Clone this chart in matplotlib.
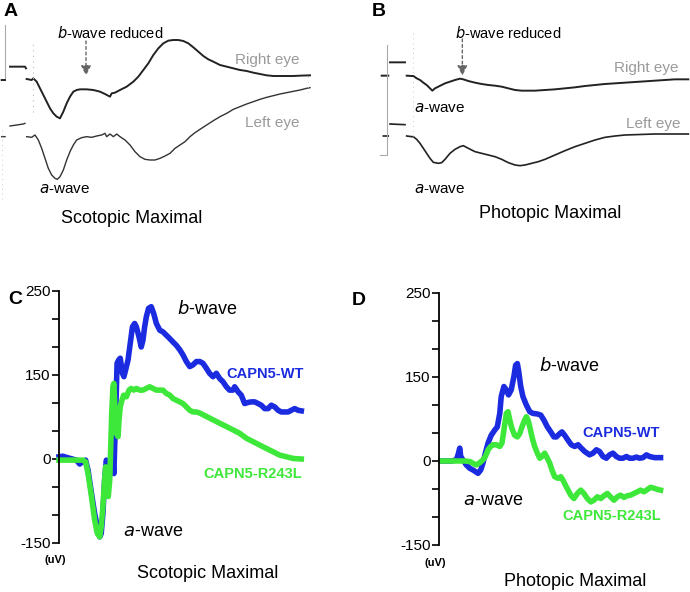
import numpy as np
import matplotlib
matplotlib.use("Agg")
import matplotlib.pyplot as plt

plt.rcParams['font.family'] = ['Liberation Sans', 'DejaVu Sans']

# ---------------- Panel A (scotopic, patient ERG traces) ----------------
# time (ms) and amplitude (uV, relative to each trace's baseline)
a_right_t = [-19, -17, np.nan, -14, -5, -4.4, np.nan, -4, -1, 0, 2, 4, 6, 8, 10, 12, 14, 16, 17, 18, 20, 22, 24, 26, 28, 32, 36, 40,
             43, 46, 47, 49, 52, 56, 60, 63, 66, 69, 72, 75, 78, 81, 84, 87, 90, 93, 96, 99, 102, 105, 108, 112, 116,
             120, 124, 128, 132, 136, 140, 144, 148, 152, 156, 160, 166]
a_right_v = [-3, -3, np.nan, 37, 37, 32, np.nan, 0, -3, 2, -8, -28, -48, -68, -88, -103, -113, -118, -108, -98, -73, -53, -38, -33, -31, -31, -33, -38,
             -45, -53, -43, -41, -33, -23, -8, 7, 27, 47, 72, 92, 107, 115, 117, 117, 114, 107, 95, 82, 69, 59, 52, 42, 37,
             32, 27, 24, 19, 15, 11, 9, 9, 9, 9, 10, 11]
a_left_t = [-19, -17, np.nan, -14, -6, -5, np.nan, -4, -1, 1, 3, 5, 7, 9, 11, 13, 14.4, 16, 18, 20, 22, 24, 26, 29, 32, 35, 38, 41,
            43, 44, 46, 48, 50, 52, 55, 58, 61, 64, 67, 70, 73, 76, 79, 82, 85, 88, 91, 94, 97, 100, 104, 108, 112, 116,
            120, 124, 128, 132, 136, 140, 144, 148, 152, 156, 160, 164, 166]
a_left_v = [0, 0, np.nan, 32, 38, 40, np.nan, 0, -2, 5, -10, -35, -65, -95, -115, -125, -128, -120, -100, -70, -45, -25, -10, -3, 0, -2, 2, 5,
            10, 0, 8, 0, 8, 0, -10, -25, -45, -60, -68, -70, -70, -65, -58, -50, -35, -25, -15, 0, 12, 22, 35, 48, 60, 70,
            82, 90, 98, 105, 112, 118, 123, 128, 132, 136, 140, 145, 147]

# ---------------- Panel B (photopic, patient ERG traces) ----------------
b_right_t = [-19, -15, np.nan, -14, -5, np.nan, -4, -1, 0, 2, 4, 6, 8, 10, 11.4, 13, 15, 17, 19, 22, 25, 28, 30, 33, 37, 41, 45, 49,
             53, 57, 61, 65, 69, 73, 79, 85, 91, 97, 103, 109, 115, 121, 127, 133, 139, 145, 151, 157, 165]
b_right_v = [0, 0, np.nan, 40, 40, np.nan, 0, -1, -1, -8, -13, -21, -28, -38, -45, -38, -33, -28, -23, -18, -13, -9, -11, -16, -21, -25, -28, -30,
             -33, -38, -43, -45, -45, -45, -43, -41, -38, -35, -31, -28, -25, -23, -21, -19, -17, -15, -13, -11, -11]
b_left_t = [-18, -15, np.nan, -14, -5, np.nan, -4, -1, 0, 2, 4, 6, 8, 10, 12, 15, 17, 19, 22, 25, 28, 30, 33, 37, 41, 45, 49, 53,
            57, 61, 64, 67, 71, 75, 79, 85, 91, 97, 103, 109, 115, 121, 127, 133, 139, 145, 151, 157, 165]
b_left_v = [0, 0, np.nan, 36, 34, np.nan, 0, -2, -2, -10, -22, -37, -52, -67, -79, -82, -80, -70, -52, -40, -32, -29, -37, -47, -52, -57, -62, -70,
            -80, -87, -89, -87, -82, -77, -70, -57, -44, -32, -22, -12, -4, 0, 3, 4, 5, 6, 6, 6, 6]

# ---------------- Panel C (mouse scotopic maximal) ----------------
c_wt_t = [0, 1.6, 3.0, 7.1, 8.5, 9.6, 10.9, 11.9, 13.3, 14.6, 15.7, 16.7, 17.3, 18.0, 18.7, 19.4, 20.1, 21.0, 21.9, 22.5, 22.8, 23.2,
          23.5, 23.8, 24.5, 25.1, 26.0, 26.6, 27.3, 28.3, 29.0, 30.1, 31.0, 31.7, 32.8, 33.7, 34.4, 35.1, 35.8, 36.7, 37.8, 38.8,
          39.9, 41.3, 42.6, 44.0, 45.4, 46.7, 48.1, 49.5, 50.8, 52.2, 53.6, 54.9, 56.3, 57.7, 59.0, 60.4, 61.7, 63.1, 64.5, 65.8,
          67.2, 68.6, 69.9, 71.3, 72.0, 73.4, 74.7, 76.1, 77.5, 78.8, 80.2, 81.6, 82.9, 84.3, 85.7, 87.0, 88.4, 89.8, 91.1, 92.5,
          93.9, 95.2, 96.6, 98.0, 99.3]
c_wt_v = [4, 5, 3, -2, -9, -5, -2, -20, -61, -97, -121, -139, -133, -97, -37, -2, -14, -8, 4, -26, 22, 70,
          123, 171, 177, 180, 153, 147, 159, 177, 200, 236, 242, 236, 218, 200, 212, 236, 254, 269, 272, 260,
          242, 230, 227, 221, 215, 209, 203, 195, 186, 174, 165, 168, 174, 174, 171, 162, 153, 147, 153, 144,
          138, 129, 123, 123, 129, 120, 114, 99, 101, 102, 102, 99, 96, 90, 90, 96, 93, 87, 84, 84,
          84, 87, 90, 87, 86]
c_mut_t = [0, 3.0, 5.7, 8.5, 9.8, 10.9, 11.9, 13.3, 14.6, 15.7, 16.7, 17.3, 18.0, 18.7, 19.1, 19.7, 20.2, 20.8, 21.2, 21.6, 22.1,
           22.5, 23.0, 23.5, 24.2, 24.6, 25.1, 25.8, 26.5, 27.6, 28.7, 29.6, 30.6, 31.7, 33.1, 34.4, 35.8, 37.2, 38.5, 39.9,
           41.3, 42.6, 44.0, 45.4, 46.7, 48.1, 49.5, 50.8, 52.2, 53.6, 54.9, 56.3, 57.7, 60.4, 63.1, 65.8, 68.6, 71.3, 74.0,
           76.8, 79.5, 82.2, 84.9, 87.7, 90.4, 93.2, 95.9, 99.3]
c_mut_v = [-2, -2, -2, -2, -2, -5, -26, -67, -109, -133, -139, -121, -85, -37, -14, -26, -67, -37, 22, 82, 129,
           135, 82, 46, 40, 70, 93, 105, 114, 111, 123, 126, 123, 126, 123, 123, 126, 129, 126, 123,
           123, 123, 117, 114, 108, 105, 102, 99, 93, 87, 84, 84, 82, 76, 70, 64, 58, 52, 46,
           37, 31, 25, 19, 13, 7, 4, 1, 0]

# ---------------- Panel D (mouse photopic maximal) ----------------
d_wt_t = [1.0, 5.1, 7.1, 7.8, 8.5, 8.9, 9.8, 11.2, 12.6, 13.9, 16.0, 17.1, 18.0, 19.0, 20.1, 21.4, 22.8, 23.9, 24.9, 25.5, 26.6,
          27.6, 28.5, 29.6, 30.7, 31.4, 32.1, 32.6, 33.5, 34.4, 35.8, 37.2, 38.5, 40.3, 41.7, 43.0, 44.4, 45.8, 47.1, 48.1, 49.5,
          50.4, 51.5, 52.9, 54.2, 55.6, 57.0, 58.3, 59.7, 61.7, 63.1, 64.5, 65.8, 67.2, 68.6, 69.9, 71.3, 72.7, 74.0, 75.4, 76.8,
          78.1, 79.5, 80.9, 82.2, 83.6, 85.0, 86.3, 88.4, 90.8]
d_wt_v = [0, 0, 2, 11, 23, 8, 2, -7, -13, -16, -22, -16, -4, 14, 32, 46, 55, 61, 85, 115, 133,
          127, 118, 127, 151, 171, 174, 162, 133, 115, 100, 88, 85, 84, 82, 73, 61, 52, 43, 43, 49,
          52, 46, 37, 29, 26, 29, 23, 17, 11, 14, 20, 17, 8, 5, 11, 14, 8, 5, 5, 8,
          5, 5, 7, 5, 6, 11, 8, 6, 6]
d_mut_t = [1.0, 5.1, 7.8, 10.5, 12.6, 13.9, 15.3, 16.7, 18.0, 19.0, 20.1, 21.2, 22.1, 23.5, 24.9, 25.8, 26.6, 27.6, 28.3, 29.0,
           29.9, 31.0, 32.1, 33.1, 34.0, 35.1, 35.8, 36.5, 37.2, 38.1, 39.2, 40.3, 41.3, 42.2, 43.3, 44.4, 45.4, 46.3, 47.4,
           48.8, 49.9, 50.8, 51.8, 52.9, 54.0, 55.3, 56.7, 58.1, 59.4, 60.8, 62.2, 63.5, 64.9, 66.3, 67.6, 69.0, 70.3, 71.7,
           73.1, 74.4, 75.8, 77.2, 78.5, 79.9, 81.3, 82.6, 84.0, 85.4, 86.7, 88.4, 89.7, 90.8]
d_mut_v = [0, 0, 0, 0, -1, -4, -7, -3, 2, 8, 20, 26, 29, 29, 26, 32, 55, 85, 88, 73,
           58, 46, 43, 49, 61, 73, 79, 73, 61, 43, 26, 14, 5, 8, 14, 5, -4, -16, -28,
           -31, -28, -34, -43, -52, -61, -67, -58, -52, -58, -67, -73, -70, -64, -67, -62, -58, -64, -70,
           -64, -61, -65, -62, -61, -58, -55, -52, -55, -51, -47, -49, -51, -52]

y_ticks = [-150, -100, -50, 0, 50, 100, 150, 200, 250, 300]
y_tick_labels = ['-150', '', '', '0', '', '', '150', '', '', '250']

BLUE = '#1a2be0'
GREEN = '#3ee83a'
GREY = '#9a9a9a'

W, H = 690, 592
fig = plt.figure(figsize=(W / 100, H / 100), dpi=100)


def px_axes(x0, y0, x1, y1):
    return fig.add_axes([x0 / W, 1 - y1 / H, (x1 - x0) / W, (y1 - y0) / H])


def trace_axes(ax, xlim, ylim):
    ax.set_xlim(*xlim)
    ax.set_ylim(*ylim)
    ax.axis('off')


# ---- Panel A ----
axA = px_axes(0, 0, 345, 250)
trace_axes(axA, (-20, 187), (-513, 237))
axA.plot(a_right_t, a_right_v, color='#222222', lw=1.4)
axA.plot(a_left_t, np.array(a_left_v) - 173, color='#333333', lw=1.0)
axA.plot([-17, -17], [2, 162], color='#aaaaaa', lw=0.8)
axA.plot([0, 0], [-100, 110], color='#bbbbbb', lw=0.8, ls=(0, (1, 4)))
axA.plot([-19, -19], [-360, -150], color='#cccccc', lw=0.7, ls=(0, (1, 4)))
axA.plot([165, 165], [-40, 10], color='#cccccc', lw=0.7, ls=(0, (1, 4)))
axA.text(-17.6, 202, 'A', fontsize=14, fontweight='bold', ha='left', va='center')
axA.text(46, 139, r'$\it{b}$-wave reduced', fontsize=10.5, ha='center', va='center')
axA.annotate('', xy=(31.6, 10), xytext=(31.6, 114),
             arrowprops=dict(arrowstyle='-|>,head_width=0.3,head_length=0.6', color='#666666',
                             lw=1.0, ls=(0, (2, 2)), shrinkA=0, shrinkB=0))
axA.text(160, 57, 'Right eye', fontsize=11, color=GREY, ha='right', va='center')
axA.text(160, -133, 'Left eye', fontsize=11, color=GREY, ha='right', va='center')
axA.text(19, -331, r'$\it{a}$-wave', fontsize=11, ha='center', va='center')
axA.text(59, -418, 'Scotopic Maximal', fontsize=13, ha='center', va='center')

# ---- Panel B ----
axB = px_axes(345, 0, 690, 250)
trace_axes(axB, (-41, 166), (-523, 227))
axB.plot(b_right_t, b_right_v, color='#222222', lw=1.4)
axB.plot(b_left_t, np.array(b_left_v) - 181, color='#222222', lw=1.2)
axB.plot([-16, -16, -20], [92, -238, -238], color='#aaaaaa', lw=0.8)
axB.plot([0, 0], [-180, 130], color='#cccccc', lw=0.7, ls=(0, (1, 4)))
axB.text(-25, 192, 'B', fontsize=14, fontweight='bold', ha='left', va='center')
axB.text(57, 129, r'$\it{b}$-wave reduced', fontsize=10.5, ha='center', va='center')
axB.annotate('', xy=(29.4, 0), xytext=(29.4, 110),
             arrowprops=dict(arrowstyle='-|>,head_width=0.3,head_length=0.6', color='#666666',
                             lw=1.0, ls=(0, (2, 2)), shrinkA=0, shrinkB=0))
axB.text(159, 22, 'Right eye', fontsize=11, color=GREY, ha='right', va='center')
axB.text(160, -145, 'Left eye', fontsize=11, color=GREY, ha='right', va='center')
axB.text(16, -98, r'$\it{a}$-wave', fontsize=11, ha='center', va='center')
axB.text(16, -341, r'$\it{a}$-wave', fontsize=11, ha='center', va='center')
axB.text(82, -413, 'Photopic Maximal', fontsize=13, ha='center', va='center')


def erg_axes(ax):
    ax.set_xlim(0, 100)
    ax.set_ylim(-150, 300)
    for s in ['top', 'right', 'bottom']:
        ax.spines[s].set_visible(False)
    ax.spines['left'].set_linewidth(1.3)
    ax.set_xticks([])
    ax.set_yticks(y_ticks)
    ax.set_yticklabels(y_tick_labels)
    ax.tick_params(axis='y', direction='out', length=5, width=1.2, labelsize=11, pad=1)
    ax.patch.set_alpha(0)


# ---- Panel C ----
axC = px_axes(59, 291, 303, 543)
erg_axes(axC)
axC.plot(c_wt_t, c_wt_v, color=BLUE, lw=4, solid_joinstyle='round', clip_on=False)
axC.plot(c_mut_t, c_mut_v, color=GREEN, lw=4, solid_joinstyle='round', clip_on=False)
axC.text(60.7, 268, r'$\it{b}$-wave', fontsize=13, ha='center', va='center')
axC.text(100.4, 152, 'CAPN5-WT', fontsize=10.5, fontweight='bold', color=BLUE, ha='right', va='center')
axC.text(99.6, -27, 'CAPN5-R243L', fontsize=10.5, fontweight='bold', color=GREEN, ha='right', va='center')
axC.text(38.5, -129, r'$\it{a}$-wave', fontsize=13, ha='center', va='center')
axC.text(61, -204, 'Scotopic Maximal', fontsize=13, ha='center', va='center', clip_on=False)
axC.text(-1.6, -180, '(uV)', fontsize=8, fontweight='bold', ha='center', va='center')
axC.text(-21, 284, 'C', fontsize=14, fontweight='bold', ha='left', va='center')

# ---- Panel D ----
axD = px_axes(439, 293, 683, 545)
erg_axes(axD)
axD.plot(d_wt_t, d_wt_v, color=BLUE, lw=4, solid_joinstyle='round', clip_on=False)
axD.plot(d_mut_t, d_mut_v, color=GREEN, lw=4, solid_joinstyle='round', clip_on=False)
axD.text(53.3, 170, r'$\it{b}$-wave', fontsize=13, ha='center', va='center')
axD.text(90.6, 50, 'CAPN5-WT', fontsize=10.5, fontweight='bold', color=BLUE, ha='right', va='center')
axD.text(91, -98, 'CAPN5-R243L', fontsize=10.5, fontweight='bold', color=GREEN, ha='right', va='center')
axD.text(22, -70, r'$\it{a}$-wave', fontsize=13, ha='center', va='center')
axD.text(55.7, -216, 'Photopic Maximal', fontsize=13, ha='center', va='center', clip_on=False)
axD.text(-1.6, -182, '(uV)', fontsize=8, fontweight='bold', ha='center', va='center')
axD.text(-35.7, 287, 'D', fontsize=14, fontweight='bold', ha='left', va='center')

fig.savefig('out.png', dpi=100)
